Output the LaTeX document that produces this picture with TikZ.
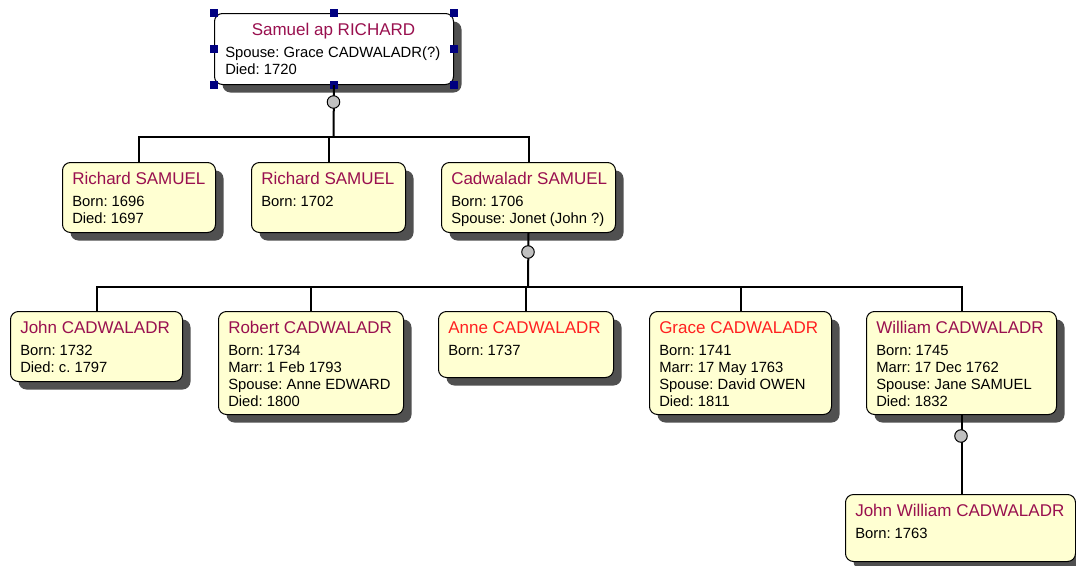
\documentclass[tikz,border=0pt]{standalone}
\usepackage{fontspec}
\setmainfont{Liberation Sans}
\frenchspacing
\usetikzlibrary{shadows}
\definecolor{boxfill}{HTML}{FFFFD2}
\definecolor{titlec}{HTML}{99104F}
\definecolor{redt}{HTML}{FF2020}
\definecolor{shadowgray}{HTML}{505050}
\definecolor{knobgray}{HTML}{C0C0C0}
\definecolor{handleblue}{HTML}{000080}
\tikzset{
 person/.style={draw=black, line width=0.75pt, rounded corners=6pt, fill=boxfill, anchor=north west, inner sep=0pt,
   drop shadow={shadow xshift=6pt, shadow yshift=-6pt, fill=shadowgray, opacity=1}},
 ttl/.style={font=\fontsize{12.75}{15}\selectfont, inner sep=0pt, anchor=base west},
 bod/.style={font=\fontsize{11.1}{12.75}\selectfont, inner sep=0pt, anchor=base west, text=black},
 conn/.style={line width=1.5pt, black},
 knob/.style={circle, draw=black, line width=0.75pt, fill=knobgray, minimum size=9.4pt, inner sep=0pt},
 handle/.style={fill=handleblue, minimum size=6.5pt, inner sep=0pt, draw=none},
}
\newcommand\personbox[8]{%
 \node[person, minimum width={(#4-#2)*0.75pt}, minimum height={(#5-#3)*0.75pt}] (#1) at (#2,#3) {};
 \node[ttl, text=#6] (#1-t) at (#2+10,#3+22.5) {#7};
 \node[bod] (#1-b) at (#2+10,#3+44.5) {\begin{tabular}[t]{@{}l@{}}#8\end{tabular}};
}
\begin{document}
\begin{tikzpicture}[x=0.75pt,y=-0.75pt]
\useasboundingbox (0,0) rectangle (1076,565);
% top person
\node[person, fill=white, minimum width={239*0.75pt}, minimum height={71*0.75pt}] (sam) at (214,13) {};
\node[ttl, anchor=base, text=titlec] (sam-t) at (333.5,35) {Samuel ap RICHARD};
\node[bod] (sam-b) at (225,57) {\begin{tabular}[t]{@{}l@{}}Spouse: Grace CADWALADR(?)\\Died: 1720\end{tabular}};
\foreach \a [count=\i] in {north west, north, north east, west, east, south west, south, south east}
  \node[handle] (h\i) at (sam.\a) {};

% generation 2
\personbox{rs1}{62}{162}{215}{232}{titlec}{Richard SAMUEL}{Born: 1696\\Died: 1697}
\personbox{rs2}{251}{162}{405}{232}{titlec}{Richard SAMUEL}{Born: 1702}
\personbox{cs}{441}{162}{615}{232}{titlec}{Cadwaladr SAMUEL}{Born: 1706\\Spouse: Jonet (John ?)}

% generation 3
\personbox{jc}{10}{311}{182}{381}{titlec}{John CADWALADR}{Born: 1732\\Died: c. 1797}
\personbox{rc}{218}{311}{403}{414}{titlec}{Robert CADWALADR}{Born: 1734\\Marr: 1 Feb 1793\\Spouse: Anne EDWARD\\Died: 1800}
\personbox{ac}{438}{311}{613}{377}{redt}{Anne CADWALADR}{Born: 1737}
\personbox{gc}{649}{311}{831}{414}{redt}{Grace CADWALADR}{Born: 1741\\Marr: 17 May 1763\\Spouse: David OWEN\\Died: 1811}
\personbox{wc}{866}{311}{1056}{414}{titlec}{William CADWALADR}{Born: 1745\\Marr: 17 Dec 1762\\Spouse: Jane SAMUEL\\Died: 1832}

% generation 4
\personbox{jw}{845}{494}{1075}{561}{titlec}{John William CADWALADR}{Born: 1763}

% connectors
\coordinate (j1) at (333.5,137);
\draw[conn] (sam.south) -- (j1);
\draw[conn] (rs1.north) |- (j1);
\draw[conn] (rs2.north) |- (j1);
\draw[conn] (cs.north) |- (j1);
\node[knob] (k1) at (333.5,102) {};

\coordinate (j2) at (528,287);
\draw[conn] (cs.south) -- (j2);
\draw[conn] (jc.north) |- (j2);
\draw[conn] (rc.north) |- (j2);
\draw[conn] (ac.north) |- (j2);
\draw[conn] (gc.north) |- (j2);
\draw[conn] (wc.north) |- (j2);
\node[knob] (k2) at (528,252) {};

\draw[conn] (wc.south) -- (wc.south |- jw.north);
\node[knob] (k3) at (961,436) {};
\end{tikzpicture}
\end{document}
